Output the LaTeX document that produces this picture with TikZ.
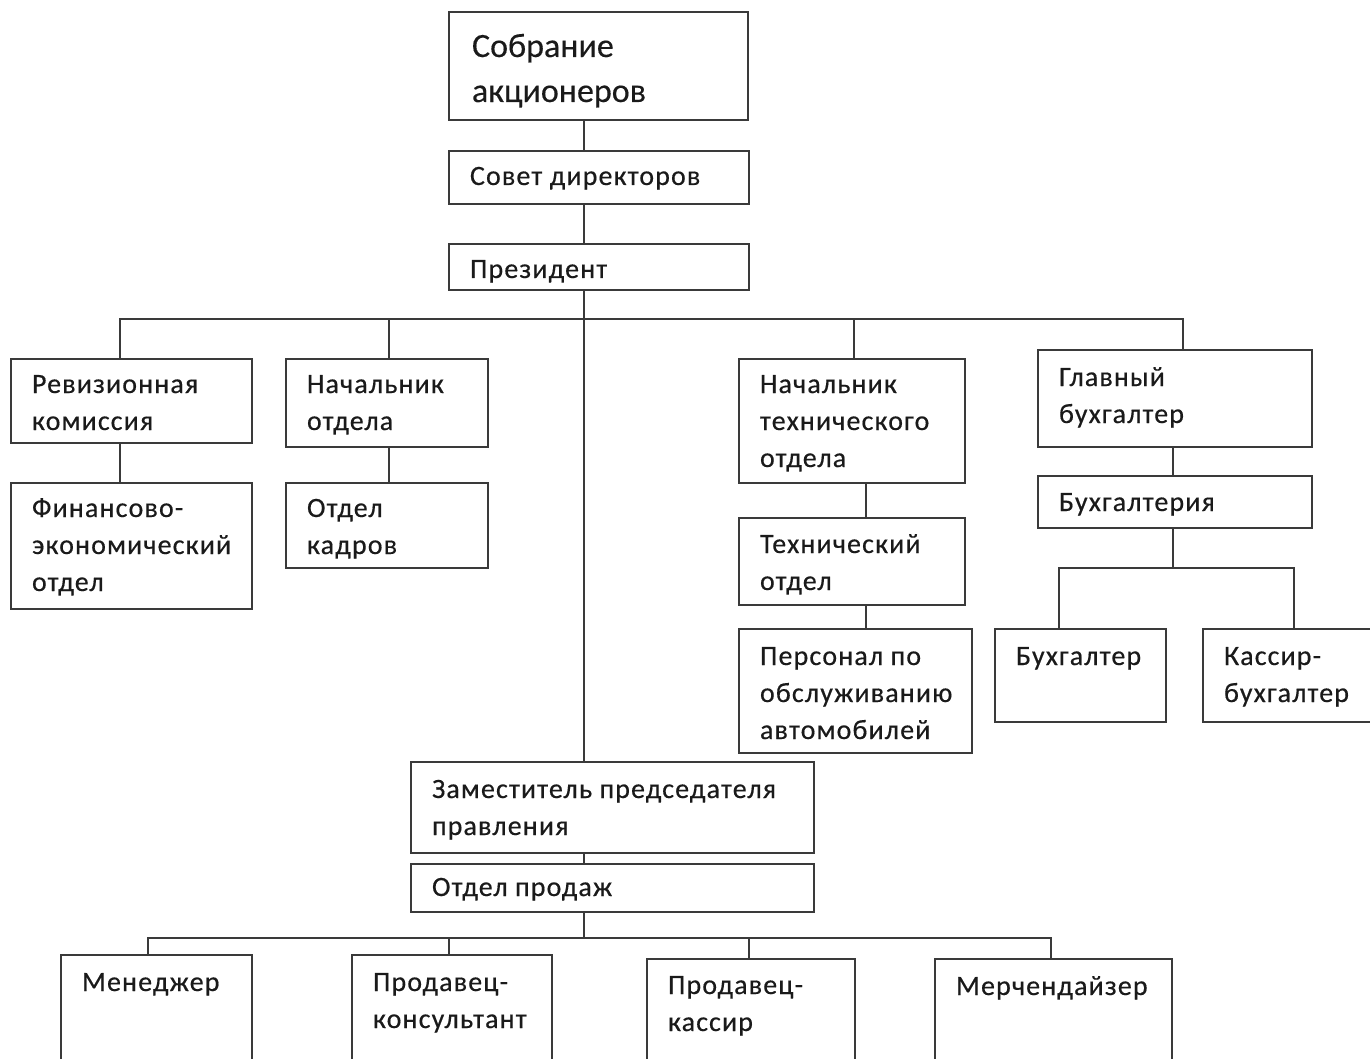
\documentclass[tikz,border=0pt]{standalone}
\usepackage{fontspec}
\setmainfont{Carlito}
\newfontfamily\boxfont{Carlito}[LetterSpace=4,FakeBold=0.4]
\newfontfamily\bigfont{Carlito}[FakeBold=0.3]
\definecolor{linec}{HTML}{3A3A3A}
\definecolor{textc}{HTML}{1A1A1A}
\begin{document}
\begin{tikzpicture}[x=1pt,y=-1pt,
  box/.style={draw=linec, line width=1.6pt, inner sep=0pt, outer sep=0pt, fill=white},
  txt/.style={anchor=base west, inner sep=0pt, outer sep=0pt, align=left, text=textc,
    font=\boxfont\fontsize{28}{37}\selectfont},
  bigtxt/.style={txt, font=\bigfont\fontsize{34}{45}\selectfont},
  conn/.style={draw=linec, line width=1.6pt}]
\fill[white] (0,0) rectangle (1370,1059);
\useasboundingbox (0,0) rectangle (1370,1059);

% coordinates of connector lines
\coordinate (cx) at (584,319);
\coordinate (b1) at (120,319);
\coordinate (b2) at (389,319);
\coordinate (b3) at (854,319);
\coordinate (b4) at (1183,319);
\coordinate (tx) at (866,0);
\coordinate (gx) at (1173,568);
\coordinate (g1) at (1059,568);
\coordinate (g2) at (1294,568);
\coordinate (s0) at (584,938);
\coordinate (s1) at (148,938);
\coordinate (s2) at (449,938);
\coordinate (s3) at (749,938);
\coordinate (s4) at (1051,938);

% boxes
\node[box, minimum width=299pt, minimum height=108pt] (sobr) at (598.5,66) {};
\node[box, minimum width=300pt, minimum height=53pt] (sovet) at (599,177.5) {};
\node[box, minimum width=300pt, minimum height=46pt] (prez) at (599,267) {};
\node[box, minimum width=241pt, minimum height=84pt] (revkom) at (131.5,401) {};
\node[box, minimum width=241pt, minimum height=126pt] (finek) at (131.5,546) {};
\node[box, minimum width=202pt, minimum height=88pt] (nach) at (387,403) {};
\node[box, minimum width=202pt, minimum height=85pt] (kadr) at (387,525.5) {};
\node[box, minimum width=226pt, minimum height=124pt] (ntech) at (852,421) {};
\node[box, minimum width=226pt, minimum height=87pt] (tech) at (852,561.5) {};
\node[box, minimum width=233pt, minimum height=124pt] (pers) at (855.5,691) {};
\node[box, minimum width=274pt, minimum height=97pt] (glav) at (1175,398.5) {};
\node[box, minimum width=274pt, minimum height=52pt] (buhg) at (1175,502) {};
\node[box, minimum width=171pt, minimum height=93pt] (buh) at (1080.5,675.5) {};
\node[box, minimum width=177pt, minimum height=93pt] (kass) at (1291.5,675.5) {};
\node[box, minimum width=403pt, minimum height=91pt] (zam) at (612.5,807.5) {};
\node[box, minimum width=403pt, minimum height=48pt] (prod) at (612.5,888) {};
\node[box, minimum width=191pt, minimum height=120pt] (men) at (156.5,1015) {};
\node[box, minimum width=200pt, minimum height=120pt] (kons) at (452,1015) {};
\node[box, minimum width=208pt, minimum height=116pt] (pkas) at (751,1017) {};
\node[box, minimum width=237pt, minimum height=116pt] (merch) at (1053.5,1017) {};

% texts (anchor = baseline of the last line)
\node[bigtxt] (tsobr) at (472,102) {Собрание\\акционеров};
\node[txt] (tsovet) at (470,185) {Совет директоров};
\node[txt] (tprez) at (470,278) {Президент};
\node[txt] (trevkom) at (32,430) {Ревизионная\\комиссия};
\node[txt] (tfinek) at (32,591) {Финансово-\\экономический\\отдел};
\node[txt] (tnach) at (307,430) {Начальник\\отдела};
\node[txt] (tkadr) at (307,554) {Отдел\\кадров};
\node[txt] (tntech) at (760,467) {Начальник\\технического\\отдела};
\node[txt] (ttech) at (760,590) {Технический\\отдел};
\node[txt] (tpers) at (760,739) {Персонал по\\обслуживанию\\автомобилей};
\node[txt] (tglav) at (1059,423) {Главный\\бухгалтер};
\node[txt] (tbuhg) at (1059,511) {Бухгалтерия};
\node[txt] (tbuh) at (1016,665) {Бухгалтер};
\node[txt] (tkass) at (1224,702) {Кассир-\\бухгалтер};
\node[txt] (tzam) at (432,835) {Заместитель председателя\\правления};
\node[txt] (tprod) at (432,896) {Отдел продаж};
\node[txt] (tmen) at (82,991) {Менеджер};
\node[txt] (tkons) at (373,1028) {Продавец-\\консультант};
\node[txt] (tpkas) at (668,1031) {Продавец-\\кассир};
\node[txt] (tmerch) at (956,995) {Мерчендайзер};

% connectors
\draw[conn] (cx |- sobr.south) -- (cx |- sovet.north);
\draw[conn] (cx |- sovet.south) -- (cx |- prez.north);
\draw[conn] (cx |- prez.south) -- (cx |- zam.north);
\draw[conn] (b1 |- revkom.north) -- (b1) -- (b4) -- (b4 |- glav.north);
\draw[conn] (b2) -- (b2 |- nach.north);
\draw[conn] (b3) -- (b3 |- ntech.north);
\draw[conn] (b1 |- revkom.south) -- (b1 |- finek.north);
\draw[conn] (b2 |- nach.south) -- (b2 |- kadr.north);
\draw[conn] (tx |- ntech.south) -- (tx |- tech.north);
\draw[conn] (tx |- tech.south) -- (tx |- pers.north);
\draw[conn] (gx |- glav.south) -- (gx |- buhg.north);
\draw[conn] (gx |- buhg.south) -- (gx);
\draw[conn] (g1 |- buh.north) -- (g1) -- (g2) -- (g2 |- kass.north);
\draw[conn] (cx |- zam.south) -- (cx |- prod.north);
\draw[conn] (cx |- prod.south) -- (s0);
\draw[conn] (s1 |- men.north) -- (s1) -- (s4) -- (s4 |- merch.north);
\draw[conn] (s2) -- (s2 |- kons.north);
\draw[conn] (s3) -- (s3 |- pkas.north);
\end{tikzpicture}
\end{document}
